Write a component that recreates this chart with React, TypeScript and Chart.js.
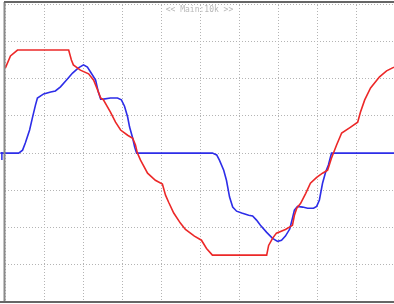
import React, { useEffect, useRef } from "react";
import { Chart, registerables } from "chart.js";

Chart.register(...registerables);

// time in divisions, amplitude in divisions
const redTime = [0.01,0.14,0.32,0.65,1.04,1.42,1.63,1.70,1.75,1.93,2.14,2.27,2.37,2.45,2.52,2.70,2.83,2.96,3.14,3.27,3.34,3.39,3.47,3.65,3.85,4.03,4.11,4.19,4.32,4.49,4.62,4.85,5.03,5.16,5.31,5.78,6.29,6.70,6.75,6.85,6.95,7.18,7.36,7.41,7.47,7.57,7.70,7.82,7.98,8.13,8.26,8.36,8.49,8.62,8.85,9.03,9.10,9.21,9.36,9.59,9.77,9.96];
const redValues = [2.29,2.61,2.77,2.77,2.77,2.77,2.77,2.50,2.37,2.23,2.13,1.96,1.70,1.48,1.43,1.10,0.83,0.62,0.48,0.40,0.22,0,-0.19,-0.54,-0.73,-0.83,-1.13,-1.32,-1.61,-1.88,-2.05,-2.23,-2.34,-2.56,-2.74,-2.74,-2.74,-2.74,-2.48,-2.29,-2.15,-2.05,-1.94,-1.67,-1.48,-1.35,-1.08,-0.81,-0.65,-0.54,-0.46,-0.13,0.22,0.54,0.70,0.83,1.10,1.43,1.75,2.05,2.21,2.31];

const blueTime = [-0.12,0.35,0.45,0.52,0.63,0.70,0.78,0.83,0.99,1.17,1.29,1.42,1.57,1.73,1.88,2.01,2.11,2.19,2.32,2.39,2.45,2.52,2.70,2.88,2.98,3.06,3.14,3.19,3.27,3.32,3.37,5.31,5.42,5.49,5.60,5.67,5.75,5.83,5.93,6.06,6.24,6.34,6.44,6.54,6.70,6.85,6.98,7.08,7.18,7.29,7.36,7.41,7.49,7.62,7.75,7.90,7.98,8.05,8.13,8.21,8.28,8.36,9.96];
const blueValues = [0,0,0.08,0.27,0.62,0.94,1.29,1.48,1.59,1.64,1.67,1.78,1.96,2.15,2.29,2.37,2.31,2.18,1.96,1.64,1.45,1.45,1.48,1.48,1.43,1.26,0.97,0.70,0.40,0.16,0,0,-0.05,-0.19,-0.46,-0.73,-1.18,-1.45,-1.56,-1.61,-1.67,-1.69,-1.80,-1.94,-2.13,-2.29,-2.37,-2.34,-2.23,-2.04,-1.75,-1.53,-1.43,-1.45,-1.48,-1.48,-1.43,-1.26,-0.81,-0.51,-0.32,0,0];

const groundMarker = [{ x: -0.08, y: -0.08 }];

const xTicks = [0,1,2,3,4,5,6,7,8,9];
const yTicks = [-4,-3,-2,-1,0,1,2,3,4];
const headerText = "<< Main:10k >>";

const framePlugin = {
  id: "frame",
  afterDatasetsDraw(chart: any) {
    const { ctx, chartArea } = chart;
    ctx.save();
    ctx.lineWidth = 2;
    ctx.strokeStyle = "#8a8a8a";
    ctx.beginPath();
    ctx.moveTo(chartArea.left - 0.5, chartArea.top);
    ctx.lineTo(chartArea.left - 0.5, chartArea.bottom);
    ctx.stroke();
    ctx.strokeStyle = "#666666";
    ctx.beginPath();
    ctx.moveTo(chartArea.left - 1, chartArea.top);
    ctx.lineTo(chart.width, chartArea.top);
    ctx.stroke();
    ctx.beginPath();
    ctx.moveTo(0, chartArea.bottom);
    ctx.lineTo(chart.width, chartArea.bottom);
    ctx.stroke();
    ctx.fillStyle = "#b8b8b8";
    ctx.font = "8px 'DejaVu Sans Mono'";
    ctx.textAlign = "center";
    ctx.textBaseline = "middle";
    ctx.fillText(headerText, (chartArea.left + chartArea.right) / 2, chartArea.top + 7.5);
    ctx.restore();
  },
};

export default function App() {
  const ref = useRef<HTMLCanvasElement>(null);
  useEffect(() => {
    if (!ref.current) return;
    const grid = {
      color: "#b4b4b4",
      lineWidth: 1,
      drawTicks: false,
    };
    const chart = new Chart(ref.current, {
      type: "line",
      data: {
        datasets: [
          {
            data: redTime.map((t, i) => ({ x: t, y: redValues[i] })),
            borderColor: "rgb(236,40,40)",
            borderWidth: 1.6,
            pointRadius: 0,
            pointHoverRadius: 0,
            tension: 0,
          },
          {
            data: blueTime.map((t, i) => ({ x: t, y: blueValues[i] })),
            borderColor: "rgb(45,45,232)",
            borderWidth: 1.6,
            pointRadius: 0,
            pointHoverRadius: 0,
            tension: 0,
            clip: false,
          },
          {
            data: groundMarker,
            showLine: false,
            pointStyle: "line",
            rotation: 90,
            pointRadius: 4,
            pointHoverRadius: 4,
            pointBorderWidth: 1.5,
            borderColor: "rgb(45,45,232)",
            backgroundColor: "rgb(45,45,232)",
            clip: false,
          },
        ],
      },
      options: {
        responsive: false,
        animation: false,
        events: [],
        layout: { autoPadding: false, padding: { left: 5, top: 2, right: 0, bottom: 2 } },
        plugins: { legend: { display: false }, tooltip: { enabled: false } },
        scales: {
          x: {
            type: "linear",
            min: 0,
            max: 9.96,
            afterBuildTicks: (s: any) => { s.ticks = xTicks.map((v) => ({ value: v })); },
            ticks: { display: false },
            grid,
            border: { display: false, dash: [1, 2] },
          },
          y: {
            type: "linear",
            min: -4,
            max: 4.06,
            afterBuildTicks: (s: any) => { s.ticks = yTicks.map((v) => ({ value: v })); },
            ticks: { display: false },
            grid,
            border: { display: false, dash: [1, 2] },
          },
        },
      },
      plugins: [framePlugin],
    });
    return () => chart.destroy();
  }, []);
  return (
    <div style={{ position: "absolute", left: 0, top: 0, width: 394, height: 304, background: "#fff" }}>
      <canvas ref={ref} width={394} height={304} style={{ display: "block" }} />
    </div>
  );
}
